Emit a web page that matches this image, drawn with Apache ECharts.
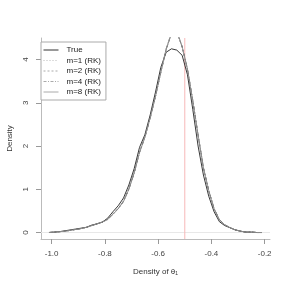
<!DOCTYPE html>
<html><head><meta charset="utf-8">
<script src="https://cdn.jsdelivr.net/npm/echarts@6/dist/echarts.min.js"></script>
<style>html,body{margin:0;padding:0;background:#fff}#c{width:291px;height:291px}</style>
</head><body><div id="c"></div>
<script>
const xs = [-1.01,-0.99,-0.97,-0.95,-0.93,-0.91,-0.89,-0.87,-0.85,-0.83,-0.81,-0.79,-0.77,-0.75,-0.73,-0.71,-0.69,-0.67,-0.65,-0.63,-0.61,-0.59,-0.57,-0.55,-0.53,-0.51,-0.49,-0.47,-0.45,-0.43,-0.41,-0.39,-0.37,-0.35,-0.33,-0.31,-0.29,-0.27,-0.25,-0.23,-0.21];
const trueY = [0.00,0.01,0.02,0.04,0.06,0.08,0.10,0.12,0.17,0.20,0.24,0.33,0.48,0.62,0.80,1.10,1.48,1.97,2.26,2.72,3.25,3.82,4.17,4.25,4.22,4.10,3.65,2.85,2.00,1.33,0.84,0.48,0.25,0.16,0.11,0.06,0.03,0.01,0.01,0.00,0.00];
const m1Y = [0.00,0.01,0.02,0.03,0.05,0.07,0.09,0.12,0.16,0.20,0.24,0.30,0.42,0.55,0.72,1.00,1.38,1.85,2.20,2.65,3.15,3.72,4.25,4.62,4.66,4.30,3.78,3.05,2.25,1.50,0.97,0.55,0.29,0.18,0.11,0.06,0.03,0.01,0.01,0.00,0.00];
const m2Y = [0.00,0.01,0.02,0.03,0.05,0.07,0.09,0.12,0.16,0.20,0.24,0.31,0.43,0.56,0.73,1.01,1.39,1.86,2.21,2.66,3.16,3.71,4.23,4.60,4.64,4.29,3.77,3.04,2.24,1.49,0.96,0.55,0.29,0.18,0.11,0.06,0.03,0.01,0.01,0.00,0.00];
const m4Y = [0.00,0.01,0.02,0.03,0.05,0.07,0.09,0.12,0.16,0.20,0.24,0.30,0.42,0.55,0.72,1.00,1.37,1.85,2.20,2.64,3.15,3.70,4.24,4.61,4.65,4.31,3.79,3.06,2.26,1.50,0.97,0.56,0.30,0.18,0.11,0.06,0.03,0.01,0.01,0.00,0.00];
const m8Y = [0.00,0.01,0.02,0.03,0.05,0.07,0.09,0.12,0.16,0.20,0.24,0.30,0.42,0.55,0.72,1.00,1.38,1.85,2.20,2.65,3.15,3.71,4.24,4.61,4.65,4.30,3.78,3.05,2.25,1.50,0.97,0.55,0.29,0.18,0.11,0.06,0.03,0.01,0.01,0.00,0.00];
const xTicks = [-1.0,-0.8,-0.6,-0.4,-0.2];
const yTicks = [0,1,2,3,4];
const refX = -0.5;
const xRange = [-1.04, -0.18];
const yRange = [-0.15, 4.5];
const names = ['True','m=1 (RK)','m=2 (RK)','m=4 (RK)','m=8 (RK)'];

const pairs = ys => xs.map((x,i)=>[x,ys[i]]);
const font = 'Liberation Sans, Arial, Helvetica, sans-serif';
function ser(name, ys, color, type, width){
  return {name, type:'line', data:pairs(ys), showSymbol:false, symbol:'none', smooth:false,
    lineStyle:{color, width, type}, itemStyle:{color}, clip:true, silent:true, animation:false, z:3};
}
const styles = [
  {color:'#222', type:'solid'},
  {color:'#666', type:'dotted'},
  {color:'#555', type:'dashed'},
  {color:'#555', type:[4,2,1,2]},
  {color:'#999', type:'solid'}
];
const legendStyles = [
  {color:'#333', type:'solid'},
  {color:'#bbb', type:[1,2]},
  {color:'#aaa', type:[2,2]},
  {color:'#aaa', type:[3,1.5,1,1.5]},
  {color:'#aaa', type:'solid'}
];
const series = [
  {name:'ref', type:'line', data:[[refX, yRange[0]],[refX, yRange[1]]], showSymbol:false, symbol:'none',
    lineStyle:{color:'#f7b8b8', width:1}, silent:true, z:2, animation:false},
  {name:'zero', type:'line', data:[[xRange[0],0],[xRange[1],0]], showSymbol:false, symbol:'none',
    lineStyle:{color:'#e8e8e8', width:1}, silent:true, z:1, animation:false},
  ser(names[0], trueY, styles[0].color, styles[0].type, 0.9),
  ser(names[1], m1Y, styles[1].color, styles[1].type, 0.8),
  ser(names[2], m2Y, styles[2].color, styles[2].type, 0.8),
  ser(names[3], m4Y, styles[3].color, styles[3].type, 0.8),
  ser(names[4], m8Y, styles[4].color, styles[4].type, 0.8)
];

const chart = echarts.init(document.getElementById('c'), null, {renderer:'canvas'});
chart.setOption({
  animation:false,
  backgroundColor:'#fff',
  grid:{left:41, right:21, top:38, bottom:52, outerBoundsMode:'none', containLabel:false},
  legend:{show:true, orient:'vertical', left:41, top:42,
    data:names.map((n,i)=>({name:n, lineStyle:{color:legendStyles[i].color, type:legendStyles[i].type, width:1}, itemStyle:{opacity:0, color:'rgba(0,0,0,0)', borderWidth:0}})),
    backgroundColor:'#fff', borderColor:'#aaa', borderWidth:1, borderRadius:0,
    padding:[4,5,4,2], itemWidth:15, itemHeight:8, itemGap:2.5,
    itemStyle:{opacity:0, color:'rgba(0,0,0,0)', borderWidth:0},
    textStyle:{fontFamily:font, fontSize:8, color:'#222', padding:[0,0,0,3]}, selectedMode:false},
  xAxis:{type:'value', min:xRange[0], max:xRange[1],
    name:'Density of θ\u2081', nameLocation:'middle', nameGap:29,
    nameTextStyle:{fontFamily:font, fontSize:8, color:'#333'},
    axisLine:{show:true, onZero:false, lineStyle:{color:'#bbb', width:1}},
    axisTick:{show:true, length:5, customValues:xTicks, lineStyle:{color:'#999'}},
    axisLabel:{customValues:xTicks, formatter:v=>v.toFixed(1), fontFamily:font, fontSize:8, color:'#444', margin:11},
    splitLine:{show:false}},
  yAxis:{type:'value', min:yRange[0], max:yRange[1],
    name:'Density', nameLocation:'middle', nameGap:27,
    nameTextStyle:{fontFamily:font, fontSize:8, color:'#333'},
    axisLine:{show:true, onZero:false, lineStyle:{color:'#bbb', width:1}},
    axisTick:{show:true, length:5, customValues:yTicks, lineStyle:{color:'#999'}},
    axisLabel:{customValues:yTicks, rotate:90, fontFamily:font, fontSize:8, color:'#444', margin:11},
    splitLine:{show:false}},
  series
});
</script></body></html>
